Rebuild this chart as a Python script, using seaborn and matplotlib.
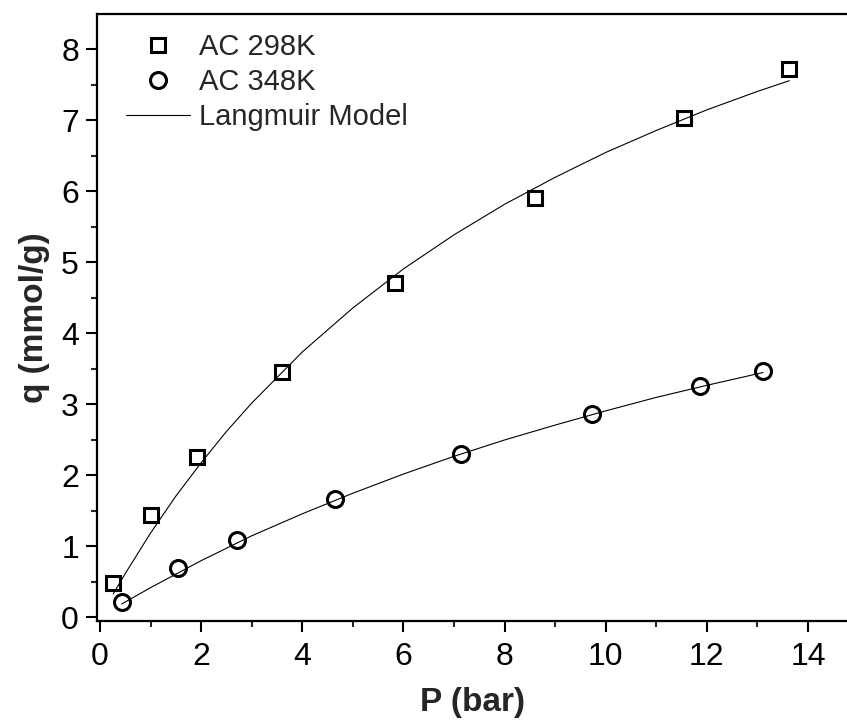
import numpy as np
import pandas as pd
import matplotlib
matplotlib.use("Agg")
import matplotlib.pyplot as plt
from matplotlib.lines import Line2D
import seaborn as sns

# ── Data ─────────────────────────────────────────────────
p_298 = [0.25, 1.01, 1.91, 3.59, 5.83, 8.60, 11.54, 13.63]
q_298 = [0.49, 1.44, 2.26, 3.46, 4.71, 5.91, 7.03, 7.73]

p_348 = [0.43, 1.55, 2.70, 4.65, 7.13, 9.72, 11.86, 13.11]
q_348 = [0.22, 0.69, 1.09, 1.67, 2.30, 2.86, 3.26, 3.47]

# Langmuir model curves
fit_p_298 = [0.26, 0.5, 1, 1.5, 2, 2.5, 3, 4, 5, 6, 7, 8, 9, 10, 11, 12, 13, 13.63]
fit_q_298 = [0.33, 0.62, 1.19, 1.71, 2.18, 2.62, 3.02, 3.74, 4.36, 4.91,
             5.39, 5.82, 6.20, 6.55, 6.86, 7.15, 7.41, 7.56]

fit_p_348 = [0.43, 1, 2, 3, 4, 5, 6, 7, 8, 9, 10, 11, 12, 13.11]
fit_q_348 = [0.19, 0.42, 0.80, 1.15, 1.46, 1.75, 2.02, 2.27, 2.50, 2.71,
             2.91, 3.10, 3.27, 3.45]

x_ticks = [0, 2, 4, 6, 8, 10, 12, 14]
y_ticks = [0, 1, 2, 3, 4, 5, 6, 7, 8]

df_pts = pd.concat([
    pd.DataFrame({"P": p_298, "q": q_298, "seri": "AC 298K"}),
    pd.DataFrame({"P": p_348, "q": q_348, "seri": "AC 348K"}),
])
df_fit = pd.concat([
    pd.DataFrame({"P": fit_p_298, "q": fit_q_298, "seri": "298"}),
    pd.DataFrame({"P": fit_p_348, "q": fit_q_348, "seri": "348"}),
])

sns.set_style("ticks")
plt.rcParams["font.family"] = ["Liberation Sans", "DejaVu Sans"]

fig = plt.figure(figsize=(8.47, 7.26), dpi=100)
ax = fig.add_axes([97 / 847, 1 - 621 / 726, 1 - 97 / 847, (621 - 14) / 726])

# ── Model lines ──────────────────────────────────────────
sns.lineplot(data=df_fit, x="P", y="q", units="seri", estimator=None,
             sort=False, color="black", linewidth=0.8, legend=False, ax=ax)

# ── Data points ──────────────────────────────────────────
for seri, mk, ms in [("AC 298K", "s", 10.5), ("AC 348K", "o", 11.5)]:
    sub = df_pts[df_pts["seri"] == seri]
    ax.plot(sub["P"], sub["q"], linestyle="none", marker=mk, markersize=ms,
            markerfacecolor="none", markeredgecolor="black", markeredgewidth=2.2,
            zorder=3)

# ── Axes ─────────────────────────────────────────────────
ax.set_xlim(-0.06, 14.77)
ax.set_ylim(-0.05, 8.5)
ax.set_xticks(x_ticks)
ax.set_yticks(y_ticks)
ax.set_xticks(np.arange(1, 15, 2), minor=True)
ax.set_yticks(np.arange(0.5, 8.5, 1), minor=True)
ax.tick_params(which="major", direction="out", length=8, width=1.5,
               labelsize=23, pad=5, colors="black")
ax.tick_params(which="minor", direction="out", length=4.5, width=1.5)
ax.tick_params(axis="x", which="major", pad=7)

for side in ["left", "bottom", "top"]:
    ax.spines[side].set_linewidth(1.6)
    ax.spines[side].set_color("black")
ax.spines["right"].set_visible(False)

ax.set_xlabel("P (bar)", fontsize=24, fontweight="bold", labelpad=11)
ax.set_ylabel("q (mmol/g)", fontsize=24, fontweight="bold", labelpad=8)

handles = [
    Line2D([], [], linestyle="none", marker="s", markersize=10.5,
           markerfacecolor="none", markeredgecolor="black", markeredgewidth=2.2),
    Line2D([], [], linestyle="none", marker="o", markersize=11.5,
           markerfacecolor="none", markeredgecolor="black", markeredgewidth=2.2),
    Line2D([], [], color="black", linewidth=0.8),
]
fig.legend(handles, ["AC 298K", "AC 348K", "Langmuir Model"],
           loc="upper left", bbox_to_anchor=(126 / 847, 1 - 33 / 726),
           frameon=False, fontsize=21, handlelength=2.2, handletextpad=0.3,
           labelspacing=0.24, borderpad=0, borderaxespad=0)

fig.savefig("out.png", dpi=100)
